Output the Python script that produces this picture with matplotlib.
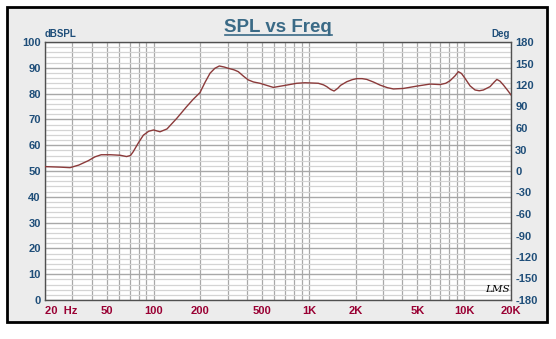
import numpy as np
import matplotlib.pyplot as plt
from matplotlib.patches import Rectangle

plt.rcParams['font.family'] = ['Liberation Sans', 'DejaVu Sans']
plt.rcParams['axes.unicode_minus'] = False

# frequency response
freq = [20, 25, 29, 33, 38, 42, 46, 53, 61, 67, 71, 74, 80, 86, 93, 100, 110,
        122, 141, 163, 180, 199, 215, 231, 248, 265, 285, 303, 330, 351, 380,
        407, 440, 484, 590, 720, 835, 944, 1050, 1150, 1240, 1303, 1380, 1452,
        1530, 1600, 1753, 1900, 2033, 2200, 2358, 2600, 2871, 3200, 3500, 4058,
        4950, 6030, 6990, 7600, 8106, 8700, 9170, 9600, 10120, 10900, 11740,
        12500, 13280, 14660, 15500, 16220, 17000, 17890, 19000, 20000]
spl = [51.7, 51.5, 51.3, 52.3, 54.0, 55.5, 56.3, 56.3, 56.1, 55.6, 56.0, 57.5,
       61.0, 63.9, 65.4, 65.9, 65.2, 66.3, 70.4, 74.9, 77.8, 80.4, 84.5, 87.9,
       89.8, 90.7, 90.3, 89.8, 89.2, 88.5, 86.7, 85.3, 84.5, 84.0, 82.4, 83.3,
       84.0, 84.2, 84.1, 84.0, 83.4, 82.7, 81.6, 81.0, 82.0, 83.2, 84.6, 85.4,
       85.8, 85.8, 85.5, 84.5, 83.3, 82.3, 81.8, 82.0, 82.9, 83.7, 83.5, 84.0,
       85.0, 86.8, 88.5, 87.8, 85.9, 83.0, 81.4, 81.1, 81.4, 82.7, 84.3, 85.5,
       84.8, 83.3, 81.3, 79.5]

xticks = [20, 50, 100, 200, 500, 1000, 2000, 5000, 10000, 20000]
xlabels = ['20  Hz', '50', '100', '200', '500', '1K', '2K', '5K', '10K', '20K']
yticks = list(range(0, 101, 10))
deg_ticks = list(range(-180, 181, 30))

blue = '#1f4e79'
maroon = '#990033'

fig = plt.figure(figsize=(5.56, 3.39), dpi=100)
fig.patch.set_facecolor('white')
fig.patches.append(Rectangle((7/556, 1-322/339), 540/556, 315/339, transform=fig.transFigure,
                             facecolor='#ececec', edgecolor='black', linewidth=2, zorder=-5))

ax = fig.add_axes([45/556, 1-300/339, 466/556, 258/339])
ax.set_facecolor('white')
ax.set_xscale('log')
ax.set_xlim(20, 20000)
ax.set_ylim(0, 100)

# grid
vlines = []
for dec in [10, 100, 1000, 10000]:
    for m in range(1, 10):
        f = dec * m
        if 20 <= f <= 20000:
            vlines.append(f)
for f in vlines:
    ax.axvline(f, color='#a8a8a8', lw=0.9, zorder=1)
for y in range(0, 101, 2):
    if y % 10 == 0:
        ax.axhline(y, color='#a8a8a8', lw=1.0, zorder=1)
    else:
        ax.axhline(y, color='#d4d4d4', lw=0.9, zorder=1)

ax.plot(freq, spl, color='#8b3a3a', lw=1.0, zorder=3)

ax.set_xticks(xticks)
ax.set_xticklabels(xlabels)
ax.xaxis.set_minor_locator(plt.NullLocator())
ax.tick_params(axis='x', length=0, pad=4, labelsize=8, labelcolor=maroon)
for lab in ax.get_xticklabels():
    lab.set_fontweight('bold')
ax.get_xticklabels()[0].set_horizontalalignment('left')
ax.get_xticklabels()[0].set_x(19)

ax.set_yticks(yticks)
ax.tick_params(axis='y', length=0, pad=3, labelsize=8, labelcolor=blue)
for lab in ax.get_yticklabels():
    lab.set_fontweight('bold')

for s in ax.spines.values():
    s.set_color('#505050')
    s.set_linewidth(1.0)

ax2 = ax.twinx()
ax2.set_ylim(-180, 180)
ax2.set_yticks(deg_ticks)
ax2.tick_params(axis='y', length=0, pad=3, labelsize=8, labelcolor=blue)
for lab in ax2.get_yticklabels():
    lab.set_fontweight('bold')
for s in ax2.spines.values():
    s.set_visible(False)

fig.text(45/556, 1-34/339, 'dBSPL', color=blue, fontsize=7, fontweight='bold',
         ha='left', va='center')
fig.text(510/556, 1-34/339, 'Deg', color=blue, fontsize=7, fontweight='bold',
         ha='right', va='center')
fig.text(278/556, 1-27/339, 'SPL vs Freq', color='#3a6a86', fontsize=13.5,
         fontweight='bold', ha='center', va='center')
fig.lines.append(plt.Line2D([225/556, 332/556], [1-35/339, 1-35/339],
                            transform=fig.transFigure, color='#3a6a86', lw=1.2))
fig.text(497/556, 1-289/339, 'LMS', color='black', fontsize=7.5, style='italic',
         family='DejaVu Serif', ha='center', va='center')

fig.savefig('out.png', dpi=100)
